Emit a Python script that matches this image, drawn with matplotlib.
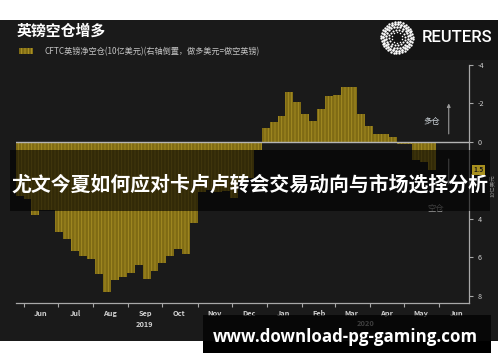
import matplotlib
matplotlib.use('Agg')
import matplotlib.pyplot as plt
import matplotlib.dates as mdates
import matplotlib.transforms as transforms
from matplotlib.patches import Rectangle
import numpy as np
import pandas as pd

plt.rcParams['font.family'] = ['Noto Sans CJK SC', 'DejaVu Sans']
plt.rcParams['hatch.linewidth'] = 0.6

# CFTC 英镑净空仓 (10亿美元), 每周二数据, 右轴倒置
week_start = '2019-05-28'
net_short = [2.8, 3.0, 3.79, 3.53, 3.53, 4.68, 5.05, 5.70, 5.92, 6.11,
             6.86, 7.79, 7.20, 7.01, 6.82, 6.42, 7.13, 6.72, 6.32, 5.92,
             5.59, 5.82, 4.21, 2.60, 2.52, 2.60, 2.55, 2.92, 2.00, 1.90,
             0.45, -0.70, -1.02, -1.35, -2.57, -2.05, -1.44, -1.08, -1.70, -2.37,
             -2.43, -2.83, -2.83, -1.42, -0.82, -0.40, -0.40, -0.24, 0.10, 0.10,
             0.93, 1.05, 1.47]
weeks = pd.date_range(week_start, periods=len(net_short), freq='7D')
y_ticks = [-4, -2, 0, 2, 4, 6, 8]
# "2" 被最新值标签挡住
y_labels = ['-4', '-2', '0', '', '4', '6', '8']

W, H = 500, 362
def px(x, y):
    return x / W, 1 - y / H

fig = plt.figure(figsize=(5, 3.62), dpi=100)
fig.patch.set_facecolor('white')

# 深色面板
fig.add_artist(Rectangle(px(0, 340.7), 498 / W, 320.7 / H, transform=fig.transFigure,
                         facecolor='#1a1a1a', edgecolor='none', zorder=-2))
fig.add_artist(Rectangle(px(380, 60), 118 / W, 40 / H, transform=fig.transFigure,
                         facecolor='#141414', edgecolor='none', zorder=-1))

ax = fig.add_axes([16 / W, 58.7 / H, 453 / W, 238.6 / H])
ax.set_facecolor('none')

gold = '#7f6b14'
ax.bar(weeks, net_short, width=7, color=gold, edgecolor='#a88f24', hatch='|||||',
       linewidth=0, zorder=2)
ax.axhline(0, color='#b4b4b4', lw=1.0, zorder=3)

ax.set_xlim(pd.Timestamp('2019-05-24 21:00'), pd.Timestamp('2020-06-27 09:00'))
ax.set_ylim(8.4, -4.0)

for s in ['top', 'left']:
    ax.spines[s].set_visible(False)
ax.spines['right'].set_color('#a8a8a8')
ax.spines['bottom'].set_color('#a8a8a8')
ax.spines['right'].set_linewidth(0.9)
ax.spines['bottom'].set_linewidth(0.9)

ax.yaxis.tick_right()
ax.set_yticks(y_ticks)
ax.set_yticklabels(y_labels)
ax.tick_params(axis='y', colors='#a8a8a8', labelcolor='#d0d0d0', length=3, width=0.8,
               pad=3, labelsize=5.2)

ax.xaxis.set_major_locator(mdates.MonthLocator())
ax.xaxis.set_major_formatter(plt.NullFormatter())
ax.xaxis.set_minor_locator(mdates.MonthLocator(bymonthday=16))
ax.xaxis.set_minor_formatter(mdates.DateFormatter('%b'))
ax.tick_params(axis='x', which='major', colors='#a8a8a8', length=3, width=0.8)
ax.tick_params(axis='x', which='minor', length=0, pad=4.5, labelsize=5.3,
               labelcolor='#d0d0d0')
for lab in ax.get_xticklabels(minor=True):
    lab.set_fontweight('bold')

# 多仓 / 空仓 箭头
x_arrow = pd.Timestamp('2020-06-09 12:00')
ax.annotate('', xy=(x_arrow, -2.13), xytext=(x_arrow, -0.26),
            arrowprops=dict(arrowstyle='-|>', color='#9a9a9a', lw=0.8, mutation_scale=5))
ax.annotate('', xy=(x_arrow, 2.4), xytext=(x_arrow, 0.76),
            arrowprops=dict(arrowstyle='-|>', color='#9a9a9a', lw=0.8, mutation_scale=5))
ax.text(pd.Timestamp('2020-05-25 19:00'), -1.07, '多仓', fontsize=6, color='#cfd6dc',
        ha='center', va='center')
ax.text(pd.Timestamp('2020-05-29'), 3.45, '空仓', fontsize=6, color='#9a9a9a',
        ha='center', va='center')

# 标题与图例
fig.text(*px(16.7, 31), '英镑空仓增多', fontsize=10.7, fontweight='bold', color='white',
         va='center', ha='left')
fig.add_artist(Rectangle(px(19.3, 54), 14 / W, 6.3 / H, transform=fig.transFigure,
                         facecolor=gold, edgecolor='#b89c28', hatch='|||||', linewidth=0))
fig.text(*px(44.3, 51.5), 'CFTC英镑净空仓(10亿美元)(右轴倒置，做多美元=做空英镑)',
         fontsize=5.9, color='#c4c4c4', va='center', ha='left')

# 年份
fig.text(*px(144, 324.3), '2019', fontsize=5.3, fontweight='bold', color='#d0d0d0',
         ha='center', va='center')
fig.text(*px(366, 323.5), '2020', fontsize=5.3, fontweight='bold', color='#d0d0d0',
         ha='center', va='center')
fig.text(*px(493.5, 186), '10亿美元', fontsize=4.0, color='#8a8a8a', rotation=90,
         ha='center', va='center')

# 路透 logo
lax = fig.add_axes([380 / W, (H - 54) / H, 34 / W, 33 / H])
lax.set_xlim(-1.05, 1.05)
lax.set_ylim(-1.05, 1.05)
lax.axis('off')
for r, n, s in [(0.32, 10, 1.2), (0.5, 16, 2.2), (0.68, 22, 3.2), (0.84, 28, 4.0), (0.98, 34, 3.0)]:
    t = np.linspace(0, 2 * np.pi, n, endpoint=False) + r
    lax.scatter(r * np.cos(t), r * np.sin(t), s=s, color='white', linewidths=0)
fig.text(*px(421.5, 37), 'REUTERS', fontsize=12, color='white', family='Roboto',
         fontweight='medium', ha='left', va='center')

# 横幅
fig.add_artist(Rectangle(px(10, 211.3), 480 / W, 61.3 / H, transform=fig.transFigure,
                         facecolor='black', alpha=0.6, edgecolor='none', zorder=5))
fig.text(*px(249.5, 184), '尤文今夏如何应对卡卢卢转会交易动向与市场选择分析',
         fontsize=14.3, fontweight='bold', color='white', ha='center', va='center', zorder=6)

# 最新值标签 (在横幅之上)
trans = transforms.blended_transform_factory(ax.transAxes, ax.transData)
fig.text(1.021, net_short[-1], f'{net_short[-1]:.1f}', transform=trans, ha='center',
         va='center', fontsize=4.8, color='#1a1a1a', fontweight='bold', zorder=7,
         bbox=dict(boxstyle='square,pad=0.25', facecolor='#a8901f', edgecolor='none'))

# 水印
fig.add_artist(Rectangle(px(203, 340.7), 287.7 / W, 25.7 / H, transform=fig.transFigure,
                         facecolor='black', alpha=0.7, edgecolor='none', zorder=5))
fig.add_artist(Rectangle(px(203, 352.7), 287.7 / W, 12 / H, transform=fig.transFigure,
                         facecolor='black', edgecolor='none', zorder=5))
fig.text(*px(345.8, 341.7), 'www.download-pg-gaming.com', fontsize=12.2, fontweight='bold',
         family='Open Sans', color='white', ha='center', va='baseline', zorder=6)

fig.savefig('out.png', dpi=100, facecolor='white')
